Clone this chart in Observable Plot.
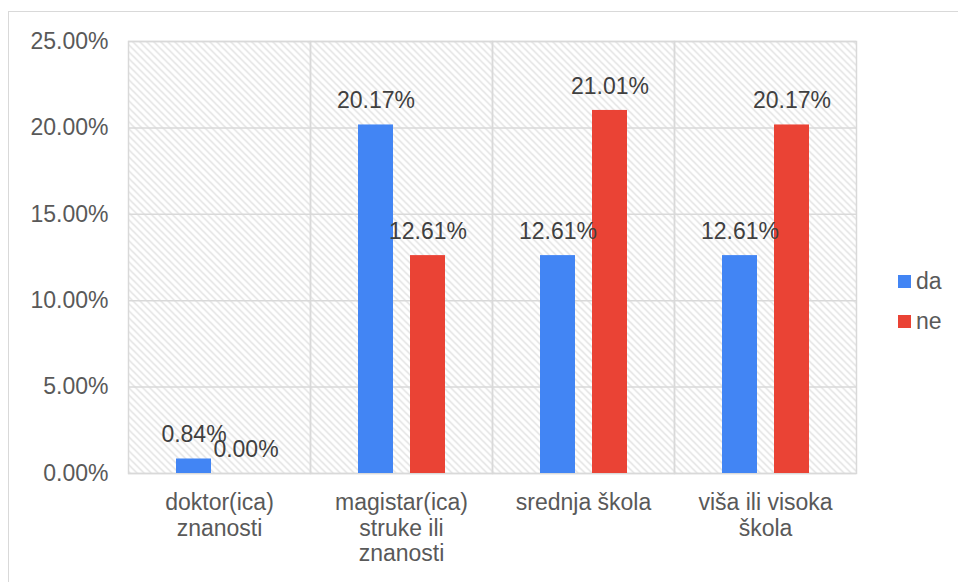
<!DOCTYPE html>
<html>
<head>
<meta charset="utf-8">
<script src="https://cdn.jsdelivr.net/npm/d3@7"></script>
<script src="https://cdn.jsdelivr.net/npm/@observablehq/plot@0.6"></script>
<style>
  html, body { margin: 0; padding: 0; background: #fff; }
  body { position: relative; width: 958px; height: 582px; overflow: hidden; font-family: "Liberation Sans", Arial, sans-serif; }
  #border { position: absolute; left: 8px; top: 11px; width: 1000px; height: 700px; border-left: 1.5px solid #d9d9d9; border-top: 1.5px solid #d9d9d9; }
  #chart { position: absolute; left: 0; top: 0; }
  .legend-item { position: absolute; left: 898px; font-size: 23px; color: #595959; display: flex; align-items: center; line-height: 1; }
  .legend-item span.sw { display: inline-block; width: 13px; height: 13px; margin-right: 5px; }
</style>
</head>
<body>
<div id="border"></div>
<div id="chart"></div>
<div id="legend"></div>
<script>
const categories = ["doktor(ica) znanosti", "magistar(ica) struke ili znanosti", "srednja škola", "viša ili visoka škola"];
const categoryLabels = ["doktor(ica)\nznanosti", "magistar(ica)\nstruke ili\nznanosti", "srednja škola", "viša ili visoka\nškola"];
const series = ["da", "ne"];
const daValues = [0.84, 20.17, 12.61, 12.61];
const neValues = [0.00, 12.61, 21.01, 20.17];
const yTicks = [0, 5, 10, 15, 20, 25];
const seriesColors = ["#4285f4", "#ea4335"];

const rows = [];
categories.forEach((c, i) => {
  rows.push({category: c, series: "da", value: daValues[i]});
  rows.push({category: c, series: "ne", value: neValues[i]});
});

const pct = d => d.toFixed(2) + "%";

const svg = Plot.plot({
  width: 958,
  height: 582,
  marginLeft: 128,
  marginRight: 102,
  marginTop: 41,
  marginBottom: 109,
  style: {fontFamily: "'Liberation Sans', Arial, sans-serif", fontSize: "23px", background: "transparent", color: "#595959"},
  fx: {domain: categories, padding: 0, label: null, axis: null},
  x: {domain: series, paddingInner: 0.327, paddingOuter: 0.9135, axis: null},
  y: {domain: [0, 25], label: null},
  color: {domain: series, range: seriesColors},
  marks: [
    Plot.frame({fill: "url(#hatch)", stroke: null}),
    Plot.gridY(yTicks, {stroke: "#d9d9d9", strokeOpacity: 1, strokeWidth: 1.5}),
    Plot.frame({stroke: "#d9d9d9", strokeWidth: 1.5}),
    Plot.barY(rows, {fx: "category", x: "series", y: "value", fill: "series"}),
    Plot.text(rows, {fx: "category", x: "series", y: "value", text: d => pct(d.value), dy: -24, lineAnchor: "middle", fill: "#404040", fontSize: 23}),
    Plot.axisY({ticks: yTicks, tickSize: 0, tickPadding: 20, tickFormat: pct, fill: "#595959", fontSize: 23, label: null}),
    Plot.axisFx({anchor: "bottom", tickSize: 0, tickPadding: 19, lineHeight: 1.1, tickFormat: d => categoryLabels[categories.indexOf(d)], fill: "#595959", fontSize: 23, label: null})
  ]
});

const defs = d3.select(svg).insert("defs", ":first-child");
const pat = defs.append("pattern")
  .attr("id", "hatch")
  .attr("patternUnits", "userSpaceOnUse")
  .attr("width", 7).attr("height", 7);
pat.append("rect").attr("width", 7).attr("height", 7).attr("fill", "#ffffff");
pat.append("path")
  .attr("d", "M-1,-1L8,8M-5,2L2,9M5,-2L9,2")
  .attr("stroke", "#d9d9d9")
  .attr("stroke-width", 1.2);

document.getElementById("chart").appendChild(svg);

const legend = document.getElementById("legend");
const legendTops = [270, 310];
series.forEach((s, i) => {
  const item = document.createElement("div");
  item.className = "legend-item";
  item.style.top = legendTops[i] + "px";
  const sw = document.createElement("span");
  sw.className = "sw";
  sw.style.background = seriesColors[i];
  item.appendChild(sw);
  item.appendChild(document.createTextNode(s));
  legend.appendChild(item);
});
</script>
</body>
</html>
